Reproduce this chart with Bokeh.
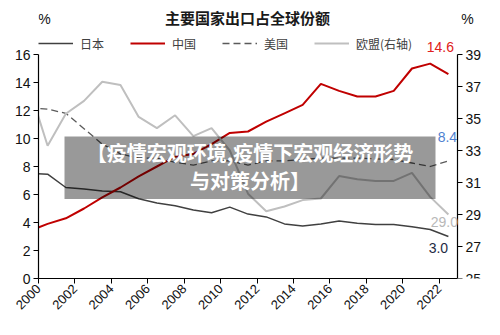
import numpy as np
from bokeh.plotting import figure
from bokeh.models import (Range1d, LinearAxis, FixedTicker, Label, BoxAnnotation,
                          Legend, LegendItem, ColumnDataSource)
from bokeh.embed import file_html
from bokeh.resources import INLINE

# Export share of world total, % (points sit mid-year)
years = list(range(1999, 2023))
japan = [7.5, 7.45, 6.5, 6.4, 6.25, 6.2, 5.7, 5.4, 5.2, 4.9, 4.7, 5.1, 4.6, 4.4,
         3.9, 3.75, 3.9, 4.1, 3.95, 3.85, 3.85, 3.7, 3.5, 3.0]
china = [3.4, 3.9, 4.3, 5.0, 5.8, 6.5, 7.3, 8.0, 8.7, 8.9, 9.6, 10.4, 10.5, 11.2,
         11.8, 12.4, 13.9, 13.4, 13.0, 13.0, 13.4, 15.0, 15.35, 14.6]
usa = [12.2, 12.1, 11.8, 10.7, 9.6, 8.9, 8.6, 8.6, 8.3, 8.1, 8.4, 8.4, 8.1, 8.4,
       8.4, 8.5, 8.6, 8.6, 8.6, 8.55, 8.5, 8.25, 8.0, 8.4]
eu = [36.9, 33.3, 35.3, 36.1, 37.3, 37.1, 35.1, 34.4, 35.2, 33.9, 34.4, 33.0, 30.3,
      29.2, 29.5, 29.9, 30.0, 31.4, 31.2, 31.1, 31.1, 31.6, 30.1, 29.0]

series_names = ["日本", "中国", "美国", "欧盟(右轴)"]
left_ticks = list(range(0, 17, 2))
right_ticks = list(range(25, 40, 2))
year_ticks = list(range(2000, 2023, 2))

src = ColumnDataSource(dict(x=np.array(years) + 0.5, japan=japan, china=china,
                            usa=usa, eu=eu))

W, H = 500, 335
B_LEFT, B_BOTTOM = 38, 57
PX_PER_YR = 419 / 23.0          # 2000..2023 spans 419 px
FRAME_H = H - B_BOTTOM
TOP_PX = 54  # where the 16 / 39 ticks sit
left_scale = (FRAME_H - TOP_PX) / 16.0
right_scale = (FRAME_H - TOP_PX) / 14.0

p = figure(width=W, height=H, output_backend="svg", toolbar_location=None,
           x_range=Range1d(2000, 2000 + (W - B_LEFT) / PX_PER_YR),
           y_range=Range1d(0, FRAME_H / left_scale),
           min_border_left=B_LEFT, min_border_right=0,
           min_border_bottom=B_BOTTOM, min_border_top=0,
           y_axis_location=None, x_axis_location=None)
p.extra_y_ranges = {"eu": Range1d(25, 25 + FRAME_H / right_scale)}
p.outline_line_color = None
p.grid.visible = False
p.background_fill_color = "white"
p.border_fill_color = "white"

AX_FONT = "Liberation Sans"


def px_to_year(px):
    return 2000 + (px - B_LEFT) / PX_PER_YR


def px_to_left(py):
    return (FRAME_H - py) / left_scale


def style_axis(ax, size="14px"):
    ax.axis_line_color = "#000000"
    ax.axis_line_width = 1.2
    ax.major_tick_line_color = "#000000"
    ax.major_tick_out = 5
    ax.major_tick_in = 0
    ax.minor_tick_line_color = None
    ax.major_label_text_font = AX_FONT
    ax.major_label_text_font_size = size
    ax.major_label_text_color = "#111111"
    ax.major_label_standoff = 3


ly = LinearAxis(bounds=(0, 16), ticker=FixedTicker(ticks=left_ticks))
style_axis(ly)
p.add_layout(ly, "left")

ry = LinearAxis(y_range_name="eu", bounds=(25, 39), fixed_location=2023,
                ticker=FixedTicker(ticks=right_ticks))
style_axis(ry)
p.add_layout(ry, "right")

bx = LinearAxis(bounds=(2000, 2023), ticker=FixedTicker(ticks=year_ticks))
style_axis(bx, "13px")
bx.major_label_orientation = np.pi / 4
p.add_layout(bx, "below")

r_jp = p.line("x", "japan", source=src, line_color="#404040", line_width=1.5)
r_cn = p.line("x", "china", source=src, line_color="#c00000", line_width=2)
r_us = p.line("x", "usa", source=src, line_color="#5a5a5a", line_width=1.3,
              line_dash="7 4")
r_eu = p.line("x", "eu", source=src, line_color="#bfbfbf", line_width=2,
              y_range_name="eu")

legend = Legend(items=[LegendItem(label=n, renderers=[r]) for n, r in
                       zip(series_names, [r_jp, r_cn, r_us, r_eu])],
                orientation="horizontal", location=(0, FRAME_H - 53),
                glyph_width=35, glyph_height=20, label_height=20,
                label_standoff=7, spacing=26, padding=0, margin=0,
                border_line_color=None, background_fill_alpha=0,
                label_text_font="Noto Sans CJK SC", label_text_font_size="12px",
                label_text_color="#404040")
p.add_layout(legend, "center")

# Title and "%" unit marks
p.add_layout(Label(x=px_to_year(247), y=px_to_left(17), text="主要国家出口占全球份额",
                   text_align="center", text_baseline="middle",
                   text_font="Noto Sans CJK SC", text_font_style="bold",
                   text_font_size="15px", text_color="#1a1a1a"))
for xp in (44, 467):
    p.add_layout(Label(x=px_to_year(xp), y=px_to_left(18), text="%",
                       text_align="center", text_baseline="middle",
                       text_font=AX_FONT, text_font_size="14px",
                       text_color="#111111"))

# End-of-series value labels
end_x = years[-1] + 0.5
p.add_layout(Label(x=end_x, y=china[-1], text=f"{china[-1]:.1f}", x_offset=-8,
                   y_offset=27, text_align="center", text_baseline="middle",
                   text_font=AX_FONT, text_font_size="14px", text_color="#e02020"))
p.add_layout(Label(x=end_x, y=usa[-1], text=f"{usa[-1]:.1f}", x_offset=-1,
                   y_offset=24, text_align="center", text_baseline="middle",
                   text_font=AX_FONT, text_font_size="14px", text_color="#4f7fd0"))
p.add_layout(Label(x=end_x, y=eu[-1], y_range_name="eu", text=f"{eu[-1]:.1f}",
                   x_offset=-4, y_offset=-7, text_align="center",
                   text_baseline="middle", text_font=AX_FONT,
                   text_font_size="14px", text_color="#b8b8b8"))
p.add_layout(Label(x=end_x, y=japan[-1], text=f"{japan[-1]:.1f}", x_offset=-10,
                   y_offset=-11, text_align="center", text_baseline="middle",
                   text_font=AX_FONT, text_font_size="14px", text_color="#1f2a44"))

# Banner across the middle of the chart
p.add_layout(BoxAnnotation(left=px_to_year(64), right=px_to_year(435),
                           top=px_to_left(136), bottom=px_to_left(198.5),
                           fill_color="black", fill_alpha=0.4, line_color=None))
for txt, yp in (("【疫情宏观环境,疫情下宏观经济形势", 151.5), ("与对策分析】", 180)):
    p.add_layout(Label(x=px_to_year(249.5), y=px_to_left(yp), text=txt,
                       text_align="center", text_baseline="middle",
                       text_font="Noto Sans CJK SC", text_font_style="bold",
                       text_font_size="20px", text_color="white"))

open("out.html", "w").write(file_html(p, INLINE))
